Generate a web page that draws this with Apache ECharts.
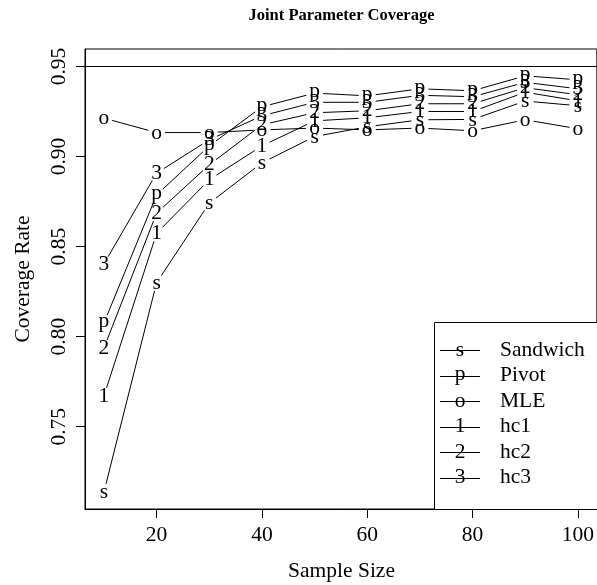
<!DOCTYPE html>
<html><head><meta charset="utf-8">
<script src="https://cdn.jsdelivr.net/npm/echarts@6/dist/echarts.min.js"></script>
<style>html,body{margin:0;padding:0;background:#fff}#c{width:597px;height:585px}</style>
</head><body><div id="c"></div>
<script>
const sampleSizes = [10, 20, 30, 40, 50, 60, 70, 80, 90, 100];
const sandwich = [0.7137, 0.8300, 0.8741, 0.8965, 0.9111, 0.9165, 0.9204, 0.9206, 0.9308, 0.9282];
const pivot    = [0.8076, 0.8787, 0.9059, 0.9276, 0.9352, 0.9337, 0.9376, 0.9365, 0.9448, 0.9426];
const mle      = [0.9213, 0.9133, 0.9133, 0.9148, 0.9158, 0.9148, 0.9158, 0.9143, 0.9204, 0.9154];
const hc1      = [0.7671, 0.8574, 0.8871, 0.9059, 0.9198, 0.9215, 0.9250, 0.9250, 0.9357, 0.9309];
const hc2      = [0.7937, 0.8686, 0.8954, 0.9176, 0.9243, 0.9254, 0.9293, 0.9293, 0.9382, 0.9343];
const hc3      = [0.8404, 0.8908, 0.9093, 0.9226, 0.9301, 0.9301, 0.9340, 0.9332, 0.9412, 0.9376];
const seriesNames = ['Sandwich', 'Pivot', 'MLE', 'hc1', 'hc2', 'hc3'];
const seriesChars = ['s', 'p', 'o', '1', '2', '3'];
const seriesValues = [sandwich, pivot, mle, hc1, hc2, hc3];
const xTicks = [20, 40, 60, 80, 100];
const yTicks = [0.75, 0.80, 0.85, 0.90, 0.95];
const nominal = 0.95;
const xRange = [6.4, 103.6];
const yRange = [0.7043, 0.9597];

const FONT = '"Liberation Serif", "Times New Roman", serif';
const FS = 21.5;
const GAP = 8.5;
function charShift(ch) {
  if (ch === 'p') return -1.5;
  if (ch === 's' || ch === 'o') return 0.5;
  return 0;
}

const chart = echarts.init(document.getElementById('c'), null, {renderer: 'canvas'});

const series = seriesValues.map((vals, si) => ({
  type: 'custom',
  name: seriesNames[si],
  data: sampleSizes.map((x, i) => [x, vals[i]]),
  clip: false,
  renderItem: function (params, api) {
    const i = params.dataIndex;
    const p0 = api.coord([api.value(0), api.value(1)]);
    const children = [];
    if (i < sampleSizes.length - 1) {
      const p1 = api.coord([sampleSizes[i + 1], vals[i + 1]]);
      const dx = p1[0] - p0[0], dy = p1[1] - p0[1];
      const len = Math.sqrt(dx * dx + dy * dy);
      if (len > 2 * GAP) {
        const ux = dx / len, uy = dy / len;
        children.push({
          type: 'line',
          shape: {x1: p0[0] + ux * GAP, y1: p0[1] + uy * GAP, x2: p1[0] - ux * GAP, y2: p1[1] - uy * GAP},
          style: {stroke: '#000', lineWidth: 1}
        });
      }
    }
    const ch = seriesChars[si];
    children.push({
      type: 'text',
      x: p0[0], y: p0[1] + charShift(ch),
      style: {text: ch, align: 'center', verticalAlign: 'middle', font: FS + 'px ' + FONT, fill: '#000'}
    });
    return {type: 'group', children: children};
  }
}));

series.push({
  type: 'line',
  data: [[xRange[0], nominal], [xRange[1], nominal]],
  symbol: 'none',
  silent: true,
  lineStyle: {color: '#000', width: 1},
  z: 1
});

// legend graphics
const LX = 434, LY = 322, rowY0 = 350, rowDY = 25.5;
const graphics = [
  {type: 'text', x: 341.5, y: 16, style: {text: 'Joint Parameter Coverage', align: 'center', verticalAlign: 'middle', font: 'bold 16.5px ' + FONT, fill: '#000'}},
  {type: 'text', x: 341.5, y: 571.5, style: {text: 'Sample Size', align: 'center', verticalAlign: 'middle', font: FS + 'px ' + FONT, fill: '#000'}},
  {type: 'text', x: 23, y: 279, rotation: Math.PI / 2, style: {text: 'Coverage Rate', align: 'center', verticalAlign: 'middle', font: FS + 'px ' + FONT, fill: '#000'}},
  {type: 'rect', shape: {x: LX + 0.5, y: LY + 0.5, width: 170, height: 187}, style: {fill: '#fff', stroke: '#000', lineWidth: 1}, z: 10}
];
seriesNames.forEach((nm, k) => {
  const ry = rowY0 + k * rowDY;
  graphics.push({type: 'line', shape: {x1: 440, y1: Math.round(ry) + 0.5, x2: 480, y2: Math.round(ry) + 0.5}, style: {stroke: '#000', lineWidth: 1}, z: 11});
  graphics.push({type: 'text', x: 460, y: ry + charShift(seriesChars[k]), style: {text: seriesChars[k], align: 'center', verticalAlign: 'middle', font: FS + 'px ' + FONT, fill: '#000'}, z: 11});
  graphics.push({type: 'text', x: 500, y: ry, style: {text: nm, align: 'left', verticalAlign: 'middle', font: FS + 'px ' + FONT, fill: '#000'}, z: 11});
});

chart.setOption({
  animation: false,
  backgroundColor: '#fff',
  grid: {left: 85, top: 49, width: 513, height: 460, show: true, borderColor: '#000', borderWidth: 1, backgroundColor: 'transparent'},
  xAxis: {
    type: 'value', min: xRange[0], max: xRange[1],
    axisLine: {show: true, lineStyle: {color: '#000', width: 1}},
    axisTick: {show: true, length: 9, inside: false, customValues: xTicks, lineStyle: {color: '#000', width: 1}},
    axisLabel: {customValues: xTicks, margin: 15, fontSize: FS, fontFamily: FONT, color: '#000'},
    splitLine: {show: false}
  },
  yAxis: {
    type: 'value', min: yRange[0], max: yRange[1],
    axisLine: {show: true, lineStyle: {color: '#000', width: 1}},
    axisTick: {show: true, length: 9, inside: false, customValues: yTicks, lineStyle: {color: '#000', width: 1}},
    axisLabel: {customValues: yTicks, rotate: 90, margin: 15, fontSize: FS, fontFamily: FONT, color: '#000', formatter: v => v.toFixed(2)},
    splitLine: {show: false}
  },
  graphic: graphics,
  series: series
});
</script></body></html>
